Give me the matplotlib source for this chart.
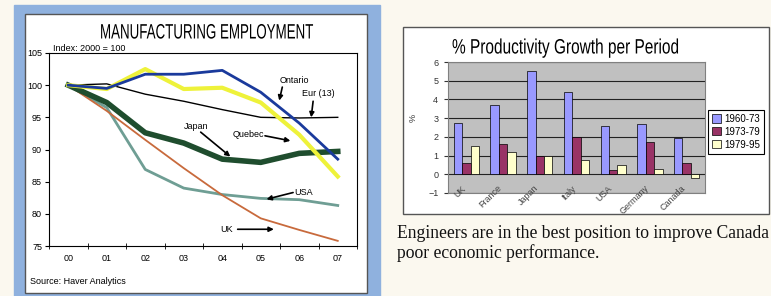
import numpy as np
import matplotlib
matplotlib.use("Agg")
import matplotlib.pyplot as plt
import matplotlib.patheffects as pe
from matplotlib.patches import Rectangle
from matplotlib.colors import LinearSegmentedColormap
from matplotlib.transforms import Affine2D

# manufacturing employment, index 2000 = 100
years = ["00", "01", "02", "03", "04", "05", "06", "07"]
ontario = [100, 99.5, 101.7, 101.7, 102.3, 98.9, 94.1, 88.5]
quebec = [100, 99.4, 102.5, 99.4, 99.6, 97.3, 92.3, 85.8]
eur13 = [100, 100.2, 98.6, 97.5, 96.2, 95.0, 94.9, 95.0]
japan = [100, 97.3, 92.6, 91.0, 88.5, 88.0, 89.4, 89.7]
usa = [100, 96.5, 86.9, 84.0, 83.0, 82.4, 82.2, 81.3]
uk = [100, 96.0, 91.5, 87.1, 82.9, 79.3, 77.5, 75.8]

# productivity growth per period, %
countries = ["UK", "France", "Japan", "Italy", "USA", "Germany", "Canada"]
periods = ["1960-73", "1973-79", "1979-95"]
p1960_73 = [2.75, 3.7, 5.5, 4.4, 2.6, 2.7, 1.95]
p1973_79 = [0.6, 1.6, 1.0, 2.0, 0.25, 1.75, 0.6]
p1979_95 = [1.5, 1.2, 1.0, 0.75, 0.5, 0.3, -0.2]

W, H = 771, 296
plt.rcParams["font.family"] = ["Liberation Sans", "DejaVu Sans"]
fig = plt.figure(figsize=(W / 100, H / 100), dpi=100)


def box(l, t, r, b):
    # pixel box -> figure fractions
    return [l / W, 1 - b / H, (r - l) / W, (b - t) / H]


class Squeeze(pe.AbstractPathEffect):
    # narrow glyphs horizontally (no condensed font installed)
    def __init__(self, sx):
        super().__init__()
        self.sx = sx

    def draw_path(self, renderer, gc, tpath, affine, rgbFace=None):
        renderer.draw_path(gc, tpath, Affine2D().scale(self.sx, 1) + affine, rgbFace)


# backdrop: cream page, blue frame for the left picture, slide on the right
bg = fig.add_axes([0, 0, 1, 1])
bg.axis("off")
bg.add_patch(Rectangle((0, 0), W, H, color="#fbf8ef"))
bg.add_patch(Rectangle((14, 5), 366, 291, color="#8fb1de"))
bg.add_patch(Rectangle((25, 14), 342, 279, facecolor="white", edgecolor="#555555", lw=1))
slide = LinearSegmentedColormap.from_list("slide", ["#8cafe2", "#b7caee", "#c7d4f1", "#c3cff0"])
bg.imshow(np.linspace(0, 1, 200)[:, None], extent=(380, W, H, 5), aspect="auto", cmap=slide)
bg.add_patch(Rectangle((403, 27), 366, 187, facecolor="white", edgecolor="#555555", lw=1))
bg.set_xlim(0, W)
bg.set_ylim(H, 0)

# ---- left: manufacturing employment ----
fig.text(100 / W, 1 - 33 / H, "MANUFACTURING EMPLOYMENT", fontsize=15, ha="left", va="center",
         path_effects=[Squeeze(0.64)])
ax1 = fig.add_axes(box(49, 53, 357, 246))
x = np.arange(len(years))
ax1.plot(x, usa, color="#6f9e94", lw=2)
ax1.plot(x, uk, color="#c86a3c", lw=1.3)
ax1.plot(x, eur13, color="black", lw=1)
ax1.plot(x, japan, color="#1f4d2e", lw=4)
ax1.plot(x, quebec, color="#eef23a", lw=3)
ax1.plot(x, ontario, color="#1a3a9c", lw=2)
ax1.set_xlim(-0.5, 7.5)
ax1.set_ylim(75, 105)
ax1.set_xticks(x, years)
ax1.set_xticks(np.arange(-0.5, 8, 1), minor=True)
ax1.tick_params(axis="x", which="major", length=0, pad=6, labelsize=6.5)
ax1.tick_params(axis="x", which="minor", length=4, direction="inout")
ax1.set_yticks(range(75, 106, 5))
ax1.tick_params(axis="y", length=3, labelsize=6.5, pad=2)
ax1.text(0.012, 0.998, "Index: 2000 = 100", transform=ax1.transAxes, fontsize=6.5, va="bottom")

notes = [
    ("Ontario", (5.88, 100.8), (5.56, 99.7), (5.48, 97.6)),
    ("Eur (13)", (6.50, 98.67), (6.36, 97.5), (6.31, 95.0)),
    ("Japan", (3.31, 93.64), (3.44, 92.7), (4.21, 88.9)),
    ("Quebec", (4.68, 92.29), (5.11, 92.13), (5.77, 91.35)),
    ("USA", (6.12, 83.31), (5.84, 83.31), (5.15, 82.27)),
    ("UK", (4.12, 77.55), (4.40, 77.6), (5.34, 77.6)),
]
for name, pos, tail, head in notes:
    ax1.text(*pos, name, fontsize=6.5, ha="center", va="center")
    ax1.annotate("", xy=head, xytext=tail,
                 arrowprops=dict(arrowstyle="-|>", color="black", lw=1.2,
                                 mutation_scale=7, shrinkA=0, shrinkB=0))
fig.text(30 / W, 1 - 281 / H, "Source: Haver Analytics", fontsize=6.5, va="center")

# ---- right: productivity growth ----
fig.text(452 / W, 1 - 48 / H, "% Productivity Growth per Period", fontsize=15, ha="left", va="center",
         path_effects=[Squeeze(0.74)])
ax2 = fig.add_axes(box(448, 62, 705, 193))
ax2.set_facecolor("#c0c0c0")
xc = np.arange(len(countries))
bw = 0.23
for k, (vals, col) in enumerate(zip([p1960_73, p1973_79, p1979_95],
                                    ["#9999ff", "#993366", "#ffffcc"])):
    ax2.bar(xc + (k - 1) * bw, vals, bw, color=col, edgecolor="black", lw=0.5,
            label=periods[k], zorder=3)
ax2.set_xlim(-0.5, 6.5)
ax2.set_ylim(-1, 6)
ax2.set_yticks(range(-1, 7))
ax2.grid(axis="y", color="#222222", lw=0.8, zorder=0)
ax2.set_xticks([])
ax2.tick_params(axis="y", length=3, labelsize=6.5, pad=4, colors="#333333")
for s in ax2.spines.values():
    s.set_color("#808080")
    s.set_linewidth(0.8)
for i, c in enumerate(countries):
    ax2.text(i - 0.15, -0.5, c, rotation=45, ha="right", va="top", rotation_mode="anchor",
             fontsize=6.5, color="#444444")
fig.text(413 / W, 1 - 118 / H, "%", rotation=90, fontsize=6.5, ha="center", va="center", color="#333333")
leg = ax2.legend(loc="upper left", bbox_to_anchor=(708 / W, 1 - 110 / H), bbox_transform=fig.transFigure,
                 fontsize=7, fancybox=False, edgecolor="black", framealpha=1,
                 handlelength=0.9, handleheight=0.9, handletextpad=0.4, borderpad=0.4,
                 labelspacing=0.3, borderaxespad=0)
leg.get_frame().set_linewidth(0.8)

fig.text(397 / W, 1 - 233 / H, "Engineers are in the best position to improve Canada",
         family="Liberation Serif", fontsize=12.7, va="center", color="#111111")
fig.text(397 / W, 1 - 253 / H, "poor economic performance.",
         family="Liberation Serif", fontsize=12.7, va="center", color="#111111")

fig.savefig("out.png", dpi=100)
